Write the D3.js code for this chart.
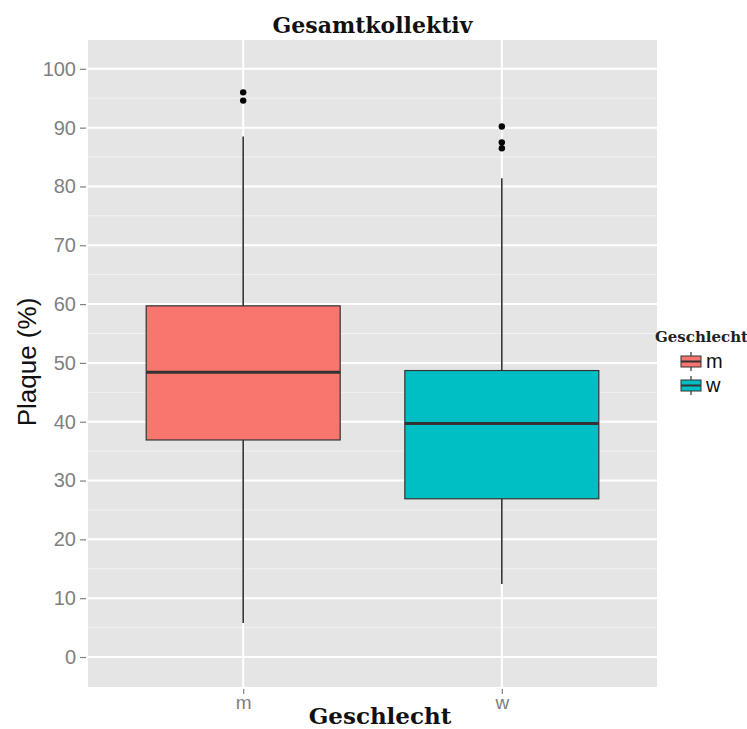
<!DOCTYPE html>
<html lang="de">
<head>
<meta charset="utf-8">
<title>Gesamtkollektiv</title>
<script src="https://d3js.org/d3.v7.min.js"></script>
<style>
    body { margin: 0; background: #fff; }
    .tick text { font-family: "Liberation Sans", Arial, sans-serif; }
</style>
</head>
<body>
<div id="chart"></div>
<script>
    "use strict"

    // values
    var categories = ["m", "w"];
    var fills = ["#F8766D", "#00BFC4"];
    var q1 = [36.9, 26.9];
    var medians = [48.4, 39.7];
    var q3 = [59.7, 48.7];
    var whiskerLow = [5.8, 12.4];
    var whiskerHigh = [88.5, 81.4];
    var outliers = [[96.0, 94.6], [90.2, 87.5, 86.5]];
    var yTicks = [0, 10, 20, 30, 40, 50, 60, 70, 80, 90, 100];
    var yMinor = [5, 15, 25, 35, 45, 55, 65, 75, 85, 95];

    var width = 747, height = 729;
    var panel = { left: 88, top: 40, right: 657, bottom: 687 };

    var svg = d3.select('#chart')
        .append('svg')
        .attr('width', width)
        .attr('height', height);

    var x = d3.scalePoint()
        .domain(categories)
        .range([panel.left, panel.right])
        .padding(0.6);

    var y = d3.scaleLinear()
        .domain([-5.1, 104.9])
        .range([panel.bottom, panel.top]);

    var boxW = x.step() * 0.75;

    var boxes = categories.map(function (c, i) {
        return { cat: c, fill: fills[i], q1: q1[i], med: medians[i], q3: q3[i],
                 lo: whiskerLow[i], hi: whiskerHigh[i], out: outliers[i] };
    });

    // panel
    svg.append('rect')
        .attr('x', panel.left).attr('y', panel.top)
        .attr('width', panel.right - panel.left)
        .attr('height', panel.bottom - panel.top)
        .attr('fill', '#E5E5E5');

    svg.append('g').selectAll('line')
        .data(yMinor).enter().append('line')
        .attr('x1', panel.left).attr('x2', panel.right)
        .attr('y1', d => y(d)).attr('y2', d => y(d))
        .attr('stroke', '#F2F2F2').attr('stroke-width', 1);

    svg.append('g').selectAll('line')
        .data(yTicks).enter().append('line')
        .attr('x1', panel.left).attr('x2', panel.right)
        .attr('y1', d => y(d)).attr('y2', d => y(d))
        .attr('stroke', '#fff').attr('stroke-width', 2);

    svg.append('g').selectAll('line')
        .data(categories).enter().append('line')
        .attr('x1', d => x(d)).attr('x2', d => x(d))
        .attr('y1', panel.top).attr('y2', panel.bottom)
        .attr('stroke', '#fff').attr('stroke-width', 2);

    // boxplots
    var g = svg.append('g').selectAll('g')
        .data(boxes).enter().append('g');

    g.append('line')
        .attr('x1', d => x(d.cat)).attr('x2', d => x(d.cat))
        .attr('y1', d => y(d.hi)).attr('y2', d => y(d.lo))
        .attr('stroke', '#333').attr('stroke-width', 1.6);

    g.append('rect')
        .attr('x', d => x(d.cat) - boxW / 2)
        .attr('width', boxW)
        .attr('y', d => y(d.q3))
        .attr('height', d => y(d.q1) - y(d.q3))
        .attr('fill', d => d.fill)
        .attr('stroke', '#333').attr('stroke-width', 1.2);

    g.append('line')
        .attr('x1', d => x(d.cat) - boxW / 2).attr('x2', d => x(d.cat) + boxW / 2)
        .attr('y1', d => y(d.med)).attr('y2', d => y(d.med))
        .attr('stroke', '#333').attr('stroke-width', 3);

    g.selectAll('circle')
        .data(d => d.out.map(v => ({ cat: d.cat, v: v })))
        .enter().append('circle')
        .attr('cx', d => x(d.cat))
        .attr('cy', d => y(d.v))
        .attr('r', 3.2)
        .attr('fill', '#000');

    // axes
    var yAxis = svg.append('g')
        .attr('transform', 'translate(' + panel.left + ',0)')
        .call(d3.axisLeft(y).tickValues(yTicks).tickSize(6).tickPadding(4));
    yAxis.select('.domain').remove();
    yAxis.selectAll('.tick line').attr('stroke', '#7F7F7F').attr('stroke-width', 1.2)
        .attr('transform', 'translate(-2,0)');
    yAxis.selectAll('.tick text').attr('fill', '#7F7F7F').style('font-size', '20px')
        .attr('x', -12);

    var xAxis = svg.append('g')
        .attr('transform', 'translate(0,' + panel.bottom + ')')
        .call(d3.axisBottom(x).tickSize(5).tickPadding(4));
    xAxis.select('.domain').remove();
    xAxis.selectAll('.tick line').attr('stroke', '#7F7F7F').attr('stroke-width', 1.2)
        .attr('transform', 'translate(0,2)');
    xAxis.selectAll('.tick text').attr('fill', '#7F7F7F').style('font-size', '19px');

    // titles
    svg.append('text')
        .attr('x', (panel.left + panel.right) / 2).attr('y', 33)
        .attr('text-anchor', 'middle')
        .style('font', 'bold 22px "DejaVu Serif", serif')
        .attr('fill', '#111')
        .text('Gesamtkollektiv');

    svg.append('text')
        .attr('x', 380).attr('y', 724)
        .attr('text-anchor', 'middle')
        .style('font', 'bold 23px "DejaVu Serif", serif')
        .attr('fill', '#111')
        .text('Geschlecht');

    svg.append('text')
        .attr('transform', 'translate(36,' + 362 + ') rotate(-90)')
        .attr('text-anchor', 'middle')
        .style('font', '26px "Liberation Sans", Arial, sans-serif')
        .attr('fill', '#111')
        .text('Plaque (%)');

    // legend
    var legend = svg.append('g');
    legend.append('text')
        .attr('x', 655).attr('y', 342)
        .style('font', 'bold 15px "DejaVu Serif", serif')
        .attr('fill', '#222')
        .text('Geschlecht');

    var keys = legend.selectAll('g.key')
        .data(boxes).enter().append('g')
        .attr('class', 'key')
        .attr('transform', (d, i) => 'translate(680,' + (352 + i * 24) + ')');

    keys.append('line')
        .attr('x1', 11).attr('x2', 11).attr('y1', 0).attr('y2', 19)
        .attr('stroke', '#333').attr('stroke-width', 1.2);
    keys.append('rect')
        .attr('x', 1).attr('y', 4).attr('width', 20).attr('height', 11)
        .attr('fill', d => d.fill)
        .attr('stroke', '#333').attr('stroke-width', 1);
    keys.append('line')
        .attr('x1', 1).attr('x2', 21).attr('y1', 9.5).attr('y2', 9.5)
        .attr('stroke', '#333').attr('stroke-width', 2);
    keys.append('text')
        .attr('x', 26).attr('y', 16)
        .style('font', '20px "Liberation Sans", Arial, sans-serif')
        .attr('fill', '#111')
        .text(d => d.cat);
</script>
</body>
</html>
